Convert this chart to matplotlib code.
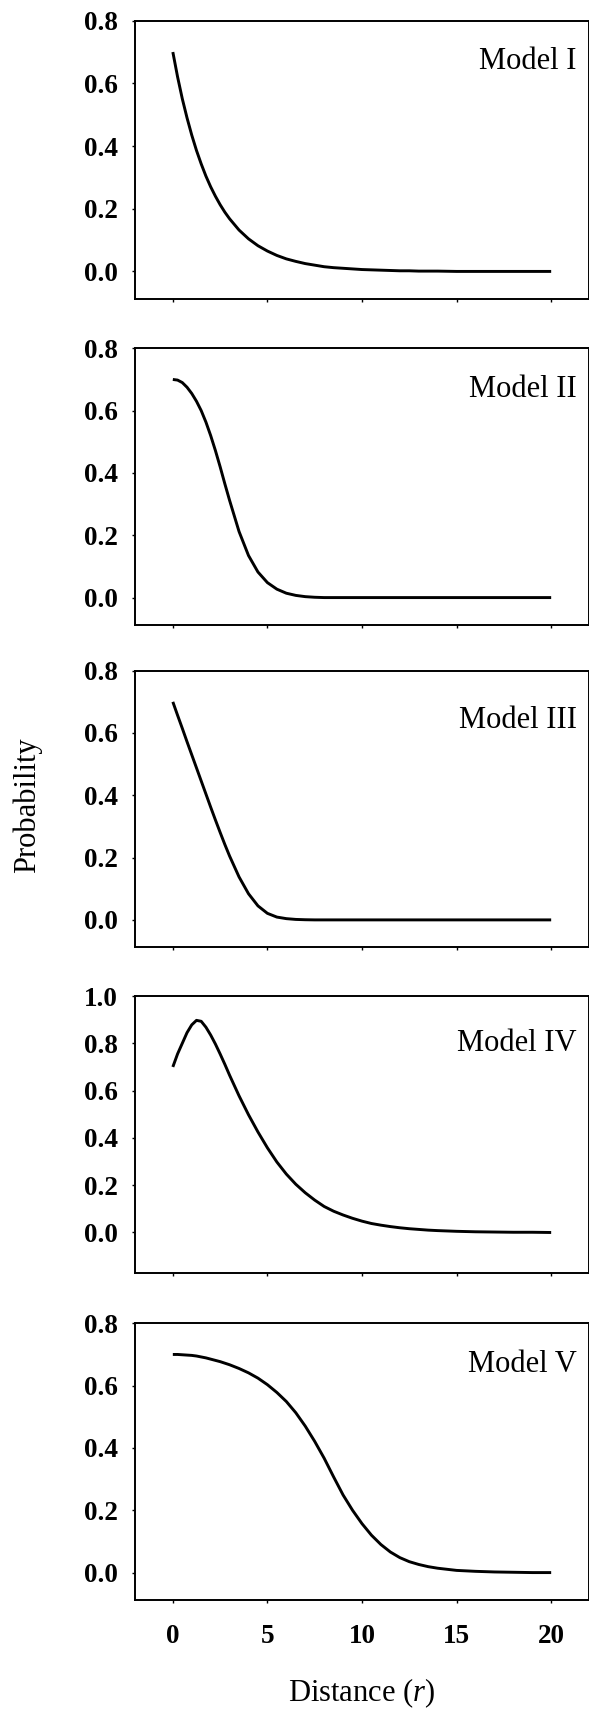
import matplotlib
matplotlib.use("Agg")
import matplotlib.pyplot as plt
import matplotlib.transforms as mtransforms

# distance grid (r)
distance = [0, 0.25, 0.5, 0.75, 1, 1.25, 1.5, 1.75, 2, 2.25, 2.5, 2.75, 3,
            3.5, 4, 4.5, 5, 5.5, 6, 6.5, 7, 7.5, 8, 8.5, 9, 9.5, 10,
            10.5, 11, 11.5, 12, 12.5, 13, 13.5, 14, 15, 16, 17, 18, 19, 20]

model_1 = [0.70, 0.621, 0.551, 0.490, 0.435, 0.386, 0.343, 0.304, 0.270, 0.240, 0.213, 0.189, 0.168,
           0.132, 0.104, 0.082, 0.065, 0.051, 0.040, 0.032, 0.025, 0.020, 0.015, 0.012, 0.010, 0.008, 0.006,
           0.005, 0.004, 0.003, 0.002, 0.002, 0.001, 0.001, 0.001, 0.0, 0.0, 0.0, 0.0, 0.0, 0.0]

model_2 = [0.70, 0.698, 0.69, 0.675, 0.655, 0.630, 0.60, 0.563, 0.52, 0.472, 0.42, 0.365, 0.312,
           0.212, 0.135, 0.082, 0.048, 0.027, 0.014, 0.007, 0.003, 0.001, 0.0, 0.0, 0.0, 0.0, 0.0,
           0.0, 0.0, 0.0, 0.0, 0.0, 0.0, 0.0, 0.0, 0.0, 0.0, 0.0, 0.0, 0.0, 0.0]

model_3 = [0.70, 0.657, 0.615, 0.572, 0.53, 0.488, 0.446, 0.404, 0.362, 0.321, 0.281, 0.242, 0.205,
           0.138, 0.084, 0.045, 0.021, 0.009, 0.004, 0.0015, 0.0005, 0.0, 0.0, 0.0, 0.0, 0.0, 0.0,
           0.0, 0.0, 0.0, 0.0, 0.0, 0.0, 0.0, 0.0, 0.0, 0.0, 0.0, 0.0, 0.0, 0.0]

model_4 = [0.70, 0.755, 0.80, 0.845, 0.878, 0.897, 0.893, 0.868, 0.835, 0.797, 0.755, 0.711, 0.665,
           0.578, 0.498, 0.425, 0.358, 0.298, 0.247, 0.204, 0.168, 0.137, 0.11, 0.09, 0.074, 0.06, 0.048,
           0.038, 0.031, 0.025, 0.02, 0.016, 0.013, 0.01, 0.008, 0.005, 0.003, 0.002, 0.001, 0.001, 0.0]

model_5 = [0.70, 0.70, 0.699, 0.698, 0.697, 0.695, 0.692, 0.689, 0.685, 0.681, 0.677, 0.672, 0.667,
           0.655, 0.641, 0.624, 0.603, 0.578, 0.549, 0.513, 0.47, 0.421, 0.367, 0.307, 0.249, 0.2, 0.157,
           0.12, 0.09, 0.066, 0.048, 0.035, 0.026, 0.019, 0.014, 0.007, 0.004, 0.002, 0.001, 0.0, 0.0]

labels = ["Model I", "Model II", "Model III", "Model IV", "Model V"]
x_ticks = [0, 5, 10, 15, 20]
y_ticks_small = [0.0, 0.2, 0.4, 0.6, 0.8]
y_ticks_big = [0.0, 0.2, 0.4, 0.6, 0.8, 1.0]

plt.rcParams['font.family'] = ['Liberation Serif', 'DejaVu Serif']
plt.rcParams['mathtext.fontset'] = 'custom'
plt.rcParams['mathtext.rm'] = 'Liberation Serif'
plt.rcParams['mathtext.it'] = 'Liberation Serif:italic'

W, H = 589, 1713
fig = plt.figure(figsize=(W / 100, H / 100), dpi=100)

# panel top/bottom in pixels
panels = [(20.7, 299), (348.3, 625), (670.7, 947.3), (996, 1272.7), (1323.3, 1600)]
label_y = [0.853, 0.85, 0.82, 0.83, 0.85]
series = [model_1, model_2, model_3, model_4, model_5]

left = 135
for i, ((top, bot), vals, lab) in enumerate(zip(panels, series, labels)):
    ax = fig.add_axes([left / W, 1 - bot / H, (W - left) / W, (bot - top) / H])
    ax.plot(distance, vals, color='black', lw=2.1, solid_capstyle='butt')
    ax.set_xlim(-2, 22)
    if i == 3:
        ax.set_ylim(-0.17, 1.0)
        ax.set_yticks(y_ticks_big)
    else:
        ax.set_ylim(-0.088, 0.8)
        ax.set_yticks(y_ticks_small)
    ax.set_yticklabels([f"{v:.1f}" for v in ax.get_yticks()])
    ax.set_xticks(x_ticks)
    if i == 4:
        ax.set_xticklabels([str(t) for t in x_ticks])
    else:
        ax.set_xticklabels([])
    ax.tick_params(direction='out', length=2.5, width=1, pad=10, labelsize=19.5)
    ax.tick_params(axis='x', pad=15)
    for t in ax.get_xticklabels() + ax.get_yticklabels():
        t.set_fontweight('bold')
    for s in ax.spines.values():
        s.set_linewidth(1.4)
    trans = mtransforms.blended_transform_factory(ax.transData, ax.transAxes)
    ax.text(21.35, label_y[i], lab, transform=trans, ha='right', va='center', fontsize=22)

fig.text(362 / W, 1 - 1693 / H, "Distance ($\\mathit{r}$)", ha='center', va='center', fontsize=22)
fig.text(27 / W, 1 - 805 / H, "Probability", ha='center', va='center', rotation=90, fontsize=22)

fig.savefig("out.png", dpi=100, facecolor='white')
